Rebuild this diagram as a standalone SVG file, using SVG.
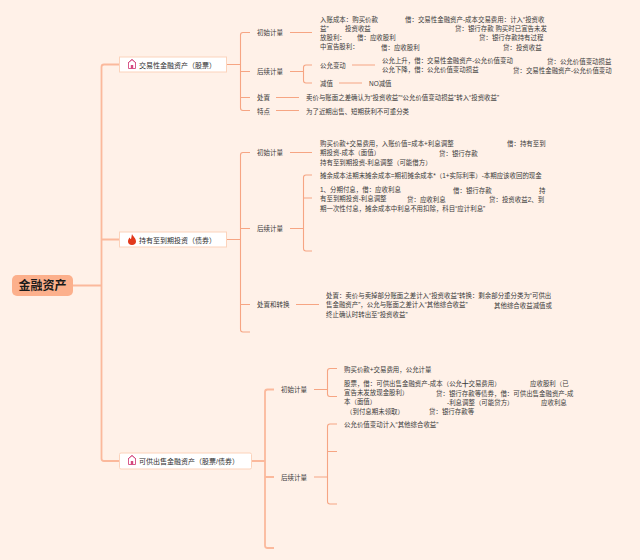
<svg xmlns="http://www.w3.org/2000/svg" width="640" height="560" viewBox="0 0 640 560">
<style>
text{font-family:"Liberation Sans","Noto Sans CJK SC",sans-serif;fill:#3a3a3a;font-size:6.45px;dominant-baseline:central}
.lab{font-size:6.5px}
.main{font-size:7px;fill:#2e2e2e}
.root{font-size:12px;font-weight:bold;fill:#1a1a1a}
.box{fill:#fff;stroke:#fcd3bb;stroke-width:1}
.c path{fill:none;stroke:#f6a583;stroke-width:1.100}
.c path.t{stroke:#fbb99c;stroke-width:1.800}
.home{fill:none;stroke:#d4487f;stroke-width:.9}
</style>
<rect width="640" height="560" fill="#fff1e8"/>
<g id="connectors" class="c">
<path class="t" d="M73 285.500H101M119 64.500H104Q101.500 64.500 101.500 67V458.500Q101.500 461 104 461H119M101.500 239.500H119"/>
<path d="M226 64.500H240.500M250 32.500H243Q240.500 32.500 240.500 35V108Q240.500 110.500 243 110.500H250M240.500 71.500H250M240.500 97.500H250"/>
<path d="M290 32.500H312M290 71.500H303.500M312 65H306Q303.500 65 303.500 67.500V80.500Q303.500 83 306 83H312M352 65H375M339 83H362M276 97.500H299M276 110.500H299"/>
<path d="M226 239.500H240.500M250 152.500H243Q240.500 152.500 240.500 155V329.500Q240.500 332 243 332H250M240.500 228.500H250M240.500 304.500H250"/>
<path d="M290 152.500H312M290 228.500H303.500M312 175H306Q303.500 175 303.500 177.500V248.500Q303.500 251 306 251H312M303.500 198H312M296 304.500H319"/>
<path class="t" d="M251 461H265M274 389.500H267.500Q265 389.500 265 392V545.500Q265 548 267.500 548H274M265 477H274"/>
<path d="M314 389.500H327.500M337 368.500H330Q327.500 368.500 327.500 371V394Q327.500 396.500 330 396.500H337M314 477H327.500M337 424H330Q327.500 424 327.500 426.500V501.500Q327.500 504 330 504H337M327.500 451.500H337"/>
</g>
<g id="root"><rect x="12" y="275" width="61" height="21" rx="5" fill="#fcb08c"/><text class="root" x="18.500" y="285.500">金融资产</text></g>
<g id="n1"><rect class="box" x="119.500" y="57" width="107" height="15"/>
<path class="home" d="M128.500 68.500V62.500L132 59.500L135.500 62.500V68.500ZM128 63L132 59.500L136 63"/><rect x="130.800" y="65" width="2.400" height="3.500" fill="#d4487f"/>
<text class="main" x="139" y="65">交易性金融资产（股票）</text></g>
<g id="n2"><rect class="box" x="119.500" y="232" width="107" height="15"/>
<path d="M132 234C133 236.500 136 238 136 241.500C136 243.800 134.500 245 132 245C129.500 245 128 243.800 128 241.500C128 239.500 129 238.500 129.500 237.500C130 238.500 130.500 239 131 239C131.500 237.500 131.500 236 132 234Z" fill="#e2391c"/>
<text class="main" x="139" y="240">持有至到期投资（债券）</text></g>
<g id="n3"><rect class="box" x="119.500" y="453" width="132" height="16" rx="1.500"/>
<path class="home" d="M128.500 464.500V458.500L132 455.500L135.500 458.500V464.500ZM128 459L132 455.500L136 459"/><rect x="130.800" y="461" width="2.400" height="3.500" fill="#d4487f"/>
<text class="main" x="139" y="461.500">可供出售金融资产（股票/债券）</text></g>
<g id="n1-a"><text class="lab" x="257" y="32.500">初始计量</text>
<text x="320" y="19">入账成本：购买价款<tspan x="405">借：交易性金融资产-成本交易费用：计入“投资收</tspan></text>
<text x="320" y="28">益”<tspan x="345">投资收益</tspan><tspan x="455">贷：银行存款 购买时已宣告未发</tspan></text>
<text x="320" y="37">放股利：<tspan x="357">借：应收股利</tspan><tspan x="479">贷：银行存款持有过程</tspan></text>
<text x="320" y="46.500">中宣告股利：<tspan x="381">借：应收股利</tspan><tspan x="503">贷：投资收益</tspan></text></g>
<g id="n1-b"><text class="lab" x="257" y="71.500">后续计量</text>
<text x="320" y="65">公允变动</text>
<text x="382" y="60.500">公允上升，借：交易性金融资产-公允价值变动<tspan x="547">贷：公允价值变动损益</tspan></text>
<text x="382" y="69.500">公允下降，借：公允价值变动损益<tspan x="513">贷：交易性金融资产-公允价值变动</tspan></text>
<text x="320" y="83.500">减值</text><text x="369" y="83.500">NO减值</text></g>
<g id="n1-c"><text class="lab" x="257" y="97.500">处置</text>
<text x="306" y="97.500">卖价与账面之差确认为“投资收益”“公允价值变动损益”转入“投资收益”</text></g>
<g id="n1-d"><text class="lab" x="257" y="111">特点</text>
<text x="306" y="111">为了近期出售、短期获利不可重分类</text></g>
<g id="n2-a"><text class="lab" x="257" y="152.500">初始计量</text>
<text x="320" y="143">购买价款+交易费用，入账价值=成本+利息调整<tspan x="507">借：持有至到</tspan></text>
<text x="320" y="152.500">期投资-成本（面值）<tspan x="439">贷：银行存款</tspan></text>
<text x="320" y="162">持有至到期投资-利息调整（可能借方）</text></g>
<g id="n2-b"><text class="lab" x="257" y="228.500">后续计量</text>
<text x="320" y="175.500">摊余成本法期末摊余成本=期初摊余成本*（1+实际利率）-本期应该收回的现金</text>
<text x="320" y="189.500">1、分期付息，借：应收利息<tspan x="453">借：银行存款</tspan><tspan x="539">持</tspan></text>
<text x="320" y="198.500">有至到期投资-利息调整<tspan x="407">贷：应收利息</tspan><tspan x="489">贷：投资收益2、到</tspan></text>
<text x="320" y="208">期一次性付息，摊余成本中利息不用扣除，科目“应计利息”</text></g>
<g id="n2-c"><text class="lab" x="257" y="304.500">处置和转换</text>
<text x="326" y="295.500">处置：卖价与卖掉部分账面之差计入“投资收益”转换：剩余部分重分类为“可供出</text>
<text x="326" y="304.500">售金融资产”，公允与账面之差计入“其他综合收益”<tspan x="494">其他综合收益减值或</tspan></text>
<text x="326" y="314">终止确认时转出至“投资收益”</text></g>
<g id="n3-a"><text class="lab" x="281" y="389.500">初始计量</text>
<text x="344" y="369.500">购买价款+交易费用，公允计量</text>
<text x="344" y="383">股票，借：可供出售金融资产-成本（公允╋交易费用）<tspan x="530">应收股利（已</tspan></text>
<text x="344" y="392.500">宣告未发放现金股利）<tspan x="436">贷：银行存款等债券，借：可供出售金融资产-成</tspan></text>
<text x="344" y="401.500">本（面值）<tspan x="447">-利息调整（可能贷方）</tspan><tspan x="541">应收利息</tspan></text>
<text x="346" y="411">（到付息期未领取）<tspan x="429">贷：银行存款等</tspan></text></g>
<g id="n3-b"><text class="lab" x="281" y="477.500">后续计量</text>
<text x="344" y="424.500">公允价值变动计入“其他综合收益”</text></g>
</svg>
